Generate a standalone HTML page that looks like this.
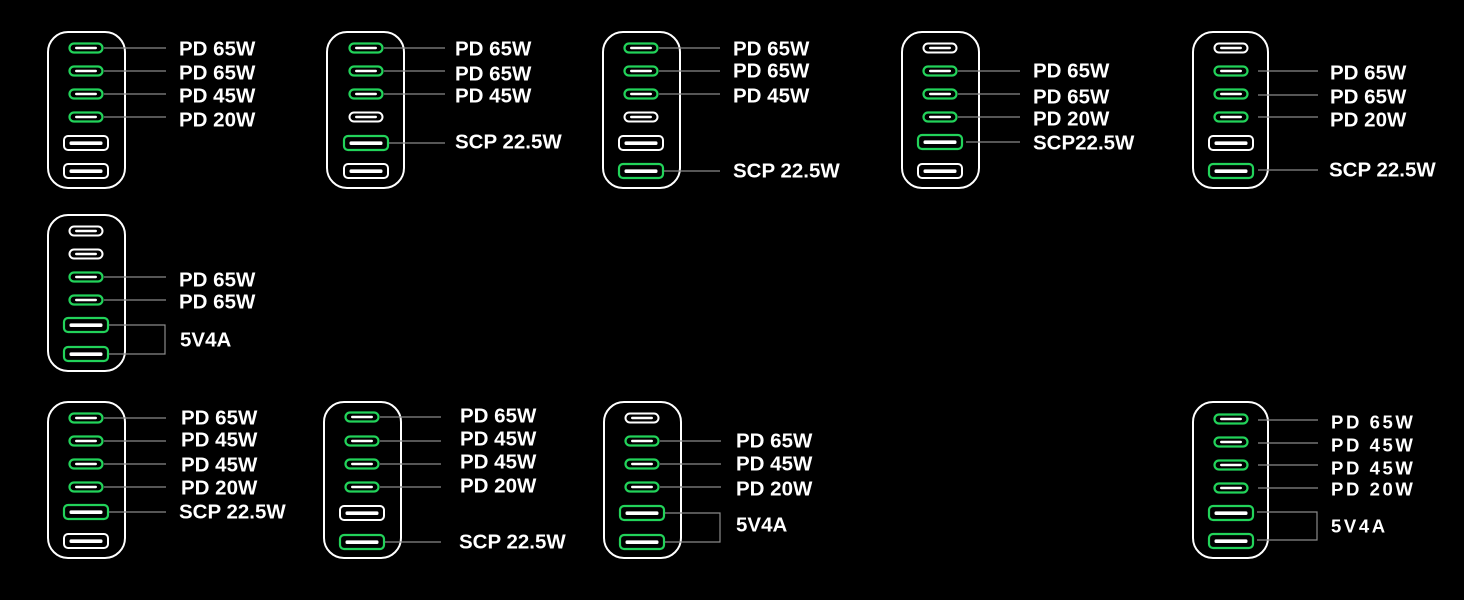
<!DOCTYPE html>
<html><head><meta charset="utf-8"><style>
html,body{margin:0;padding:0;background:#000;}
svg{display:block}
text{font-family:"Liberation Sans",sans-serif;font-weight:bold;font-size:20.5px;fill:#fff;dominant-baseline:central}
.w text{letter-spacing:2.6px;font-size:18.5px}
line,polyline{stroke:#8a8a8a;stroke-width:1.2;fill:none}
.dev{fill:none;stroke:#fff;stroke-width:2}
</style></head><body>
<svg width="1464" height="600" viewBox="0 0 1464 600" xmlns="http://www.w3.org/2000/svg">
<defs>
<g id="cg"><rect x="-16.5" y="-4.5" width="33" height="9" rx="4.5" fill="none" stroke="#22d35a" stroke-width="2.2"/><rect x="-11" y="-1.2" width="22" height="2.4" rx="1.2" fill="#fff"/></g>
<g id="cw"><rect x="-16.5" y="-4.5" width="33" height="9" rx="4.5" fill="none" stroke="#fff" stroke-width="2"/><rect x="-11" y="-1.2" width="22" height="2.4" rx="1.2" fill="#fff"/></g>
<g id="ag"><rect x="-22" y="-7" width="44" height="14" rx="4" fill="none" stroke="#22d35a" stroke-width="2.2"/><rect x="-16.5" y="-1.6" width="33" height="3.6" rx="1.5" fill="#fff"/></g>
<g id="aw"><rect x="-22" y="-7" width="44" height="14" rx="4" fill="none" stroke="#fff" stroke-width="2"/><rect x="-16.5" y="-1.6" width="33" height="3.6" rx="1.5" fill="#fff"/></g>
</defs>

<!-- 1 -->
<rect class="dev" x="48" y="32" width="77" height="156" rx="20"/>
<use href="#cg" x="86" y="48"/><use href="#cg" x="86" y="71"/><use href="#cg" x="86" y="94"/><use href="#cg" x="86" y="117"/><use href="#aw" x="86" y="143"/><use href="#aw" x="86" y="171"/>
<line x1="104" y1="48" x2="166" y2="48"/><line x1="104" y1="71" x2="166" y2="71"/><line x1="104" y1="94" x2="166" y2="94"/><line x1="104" y1="117" x2="166" y2="117"/>
<text x="179" y="49">PD 65W</text><text x="179" y="73">PD 65W</text><text x="179" y="96">PD 45W</text><text x="179" y="120">PD 20W</text>

<!-- 2 -->
<rect class="dev" x="327" y="32" width="77" height="156" rx="20"/>
<use href="#cg" x="366" y="48"/><use href="#cg" x="366" y="71"/><use href="#cg" x="366" y="94"/><use href="#cw" x="366" y="117"/><use href="#ag" x="366" y="143"/><use href="#aw" x="366" y="171"/>
<line x1="384" y1="48" x2="445" y2="48"/><line x1="384" y1="71" x2="445" y2="71"/><line x1="384" y1="94" x2="445" y2="94"/><line x1="389" y1="143" x2="445" y2="143"/>
<text x="455" y="49">PD 65W</text><text x="455" y="74">PD 65W</text><text x="455" y="96">PD 45W</text><text x="455" y="142">SCP 22.5W</text>

<!-- 3 -->
<rect class="dev" x="603" y="32" width="77" height="156" rx="20"/>
<use href="#cg" x="641" y="48"/><use href="#cg" x="641" y="71"/><use href="#cg" x="641" y="94"/><use href="#cw" x="641" y="117"/><use href="#aw" x="641" y="143"/><use href="#ag" x="641" y="171"/>
<line x1="659" y1="48" x2="720" y2="48"/><line x1="659" y1="71" x2="720" y2="71"/><line x1="659" y1="94" x2="720" y2="94"/><line x1="664" y1="171" x2="720" y2="171"/>
<text x="733" y="49">PD 65W</text><text x="733" y="71">PD 65W</text><text x="733" y="96">PD 45W</text><text x="733" y="171">SCP 22.5W</text>

<!-- 4 -->
<rect class="dev" x="902" y="32" width="77" height="156" rx="20"/>
<use href="#cw" x="940" y="48"/><use href="#cg" x="940" y="71"/><use href="#cg" x="940" y="94"/><use href="#cg" x="940" y="117"/><use href="#ag" x="940" y="142"/><use href="#aw" x="940" y="171"/>
<line x1="958" y1="71" x2="1020" y2="71"/><line x1="958" y1="94" x2="1020" y2="94"/><line x1="958" y1="117" x2="1020" y2="117"/><line x1="966" y1="142" x2="1020" y2="142"/>
<text x="1033" y="71">PD 65W</text><text x="1033" y="97">PD 65W</text><text x="1033" y="119">PD 20W</text><text x="1033" y="143">SCP22.5W</text>

<!-- 5 -->
<rect class="dev" x="1193" y="32" width="75" height="156" rx="20"/>
<use href="#cw" x="1231" y="48"/><use href="#cg" x="1231" y="71"/><use href="#cg" x="1231" y="94"/><use href="#cg" x="1231" y="117"/><use href="#aw" x="1231" y="143"/><use href="#ag" x="1231" y="171"/>
<line x1="1258" y1="71" x2="1318" y2="71"/><line x1="1258" y1="95" x2="1318" y2="95"/><line x1="1258" y1="117" x2="1318" y2="117"/><line x1="1258" y1="170" x2="1318" y2="170"/>
<text x="1330" y="73">PD 65W</text><text x="1330" y="97">PD 65W</text><text x="1330" y="120">PD 20W</text><text x="1329" y="170">SCP 22.5W</text>

<!-- 6 -->
<rect class="dev" x="48" y="215" width="77" height="156" rx="20"/>
<use href="#cw" x="86" y="231"/><use href="#cw" x="86" y="254"/><use href="#cg" x="86" y="277"/><use href="#cg" x="86" y="300"/><use href="#ag" x="86" y="325"/><use href="#ag" x="86" y="354"/>
<line x1="104" y1="277" x2="166" y2="277"/><line x1="104" y1="300" x2="166" y2="300"/>
<polyline points="109,325 165,325 165,354 109,354"/>
<text x="179" y="280">PD 65W</text><text x="179" y="302">PD 65W</text><text x="180" y="340">5V4A</text>

<!-- 7 -->
<rect class="dev" x="48" y="402" width="77" height="156" rx="20"/>
<use href="#cg" x="86" y="418"/><use href="#cg" x="86" y="441"/><use href="#cg" x="86" y="464"/><use href="#cg" x="86" y="487"/><use href="#ag" x="86" y="512"/><use href="#aw" x="86" y="541"/>
<line x1="104" y1="418" x2="166" y2="418"/><line x1="104" y1="441" x2="166" y2="441"/><line x1="104" y1="464" x2="166" y2="464"/><line x1="104" y1="487" x2="166" y2="487"/><line x1="109" y1="512" x2="166" y2="512"/>
<text x="181" y="418">PD 65W</text><text x="181" y="440">PD 45W</text><text x="181" y="465">PD 45W</text><text x="181" y="488">PD 20W</text><text x="179" y="512">SCP 22.5W</text>

<!-- 8 -->
<rect class="dev" x="324" y="402" width="77" height="156" rx="20"/>
<use href="#cg" x="362" y="417"/><use href="#cg" x="362" y="441"/><use href="#cg" x="362" y="464"/><use href="#cg" x="362" y="487"/><use href="#aw" x="362" y="513"/><use href="#ag" x="362" y="542"/>
<line x1="380" y1="417" x2="441" y2="417"/><line x1="380" y1="441" x2="441" y2="441"/><line x1="380" y1="464" x2="441" y2="464"/><line x1="380" y1="487" x2="441" y2="487"/><line x1="385" y1="542" x2="441" y2="542"/>
<text x="460" y="416">PD 65W</text><text x="460" y="439">PD 45W</text><text x="460" y="462">PD 45W</text><text x="460" y="486">PD 20W</text><text x="459" y="542">SCP 22.5W</text>

<!-- 9 -->
<rect class="dev" x="604" y="402" width="77" height="156" rx="20"/>
<use href="#cw" x="642" y="418"/><use href="#cg" x="642" y="441"/><use href="#cg" x="642" y="464"/><use href="#cg" x="642" y="487"/><use href="#ag" x="642" y="513"/><use href="#ag" x="642" y="542"/>
<line x1="660" y1="441" x2="721" y2="441"/><line x1="660" y1="464" x2="721" y2="464"/><line x1="660" y1="487" x2="721" y2="487"/>
<polyline points="665,513 720,513 720,542 665,542"/>
<text x="736" y="441">PD 65W</text><text x="736" y="464">PD 45W</text><text x="736" y="489">PD 20W</text><text x="736" y="525">5V4A</text>

<!-- 10 -->
<rect class="dev" x="1193" y="402" width="75" height="156" rx="20"/>
<use href="#cg" x="1231" y="419"/><use href="#cg" x="1231" y="442"/><use href="#cg" x="1231" y="465"/><use href="#cg" x="1231" y="488"/><use href="#ag" x="1231" y="513"/><use href="#ag" x="1231" y="541"/>
<line x1="1258" y1="420" x2="1318" y2="420"/><line x1="1258" y1="443" x2="1318" y2="443"/><line x1="1258" y1="465" x2="1318" y2="465"/><line x1="1258" y1="488" x2="1318" y2="488"/>
<polyline points="1257,512 1317,512 1317,540 1257,540"/>
<g class="w"><text x="1331" y="422">PD 65W</text><text x="1331" y="445">PD 45W</text><text x="1331" y="468">PD 45W</text><text x="1331" y="489">PD 20W</text><text x="1331" y="526">5V4A</text></g>
</svg>
</body></html>
